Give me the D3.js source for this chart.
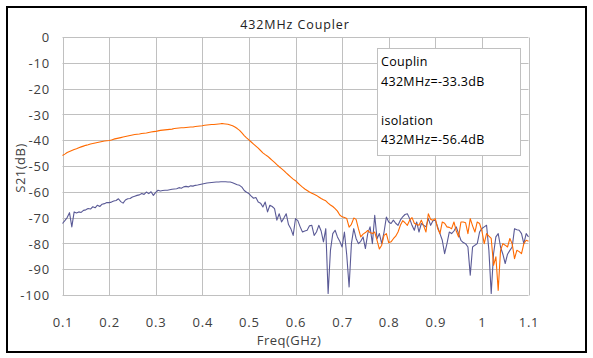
<!DOCTYPE html>
<html>
<head>
<meta charset="utf-8">
<script src="https://cdn.jsdelivr.net/npm/d3@7"></script>
<style>
  html, body { margin: 0; padding: 0; background: #fff; }
  svg { display: block; }
  text { font-family: "Open Sans", "DejaVu Sans", sans-serif; }
</style>
</head>
<body>
<svg id="chart" width="593" height="358"></svg>
<script>
// ---- data ----
const title = "432MHz Coupler";
const xTitle = "Freq(GHz)";
const yTitle = "S21(dB)";
const xTicks = [0.1, 0.2, 0.3, 0.4, 0.5, 0.6, 0.7, 0.8, 0.9, 1.0, 1.1];
const xTickLabels = ["0.1","0.2","0.3","0.4","0.5","0.6","0.7","0.8","0.9","1","1.1"];
const yTicks = [0, -10, -20, -30, -40, -50, -60, -70, -80, -90, -100];
const freqStart = 0.1;   // GHz
const freqStep = 0.005;  // GHz
const legendLines = ["Couplin", "432MHz=-33.3dB", "", "isolation", "432MHz=-56.4dB"];

// Coupling (orange), 0.100 .. 1.100 GHz every 5 MHz
const coupling = [
  -45.7,-45.2,-44.6,-44.2,-43.8,-43.4,-43.1,-42.7,-42.4,-42.1,   // 0.100-0.145
  -41.8,-41.6,-41.3,-41.1,-40.9,-40.7,-40.5,-40.3,-40.1,-40.0,   // 0.150-0.195
  -39.9,-39.7,-39.4,-39.2,-39.0,-38.8,-38.6,-38.4,-38.2,-38.0,   // 0.200-0.245
  -37.8,-37.6,-37.5,-37.4,-37.2,-37.1,-37.0,-36.8,-36.6,-36.5,   // 0.250-0.295
  -36.4,-36.2,-36.0,-35.9,-35.8,-35.7,-35.6,-35.5,-35.3,-35.2,   // 0.300-0.345
  -35.1,-35.0,-35.0,-34.9,-34.8,-34.7,-34.7,-34.5,-34.4,-34.3,   // 0.350-0.395
  -34.2,-34.0,-33.9,-33.8,-33.7,-33.7,-33.6,-33.5,-33.4,-33.4,   // 0.400-0.445
  -33.5,-33.6,-33.9,-34.2,-34.7,-35.3,-36.0,-37.0,-38.0,-38.9,   // 0.450-0.495
  -39.7,-40.5,-41.3,-42.1,-42.9,-43.8,-44.7,-45.4,-46.0,-46.8,   // 0.500-0.545
  -47.6,-48.4,-49.3,-50.1,-50.8,-51.6,-52.5,-53.3,-54.1,-54.9,   // 0.550-0.595
  -55.5,-56.4,-57.2,-58.0,-58.7,-59.3,-59.9,-60.4,-60.8,-61.2,   // 0.600-0.645
  -61.8,-62.4,-62.9,-63.3,-64.2,-64.9,-65.5,-66.3,-67.3,-68.8,   // 0.650-0.695
  -69.5,-69.8,-70.2,-73.5,-72.4,-70.0,-70.5,-74.1,-77.3,-76.2,   // 0.700-0.745
  -75.6,-74.8,-75.6,-76.0,-75.4,-78.6,-82.0,-80.5,-76.7,-76.0,   // 0.750-0.795
  -79.5,-79.2,-78.0,-77.0,-75.4,-72.8,-71.0,-71.8,-72.8,-70.8,   // 0.800-0.845
  -69.8,-72.0,-72.5,-72.8,-70.8,-73.0,-75.4,-68.3,-70.5,-70.8,   // 0.850-0.895
  -70.2,-74.0,-76.0,-71.5,-72.0,-73.4,-73.6,-74.1,-71.5,-75.0,   // 0.900-0.945
  -77.3,-71.5,-71.5,-71.8,-76.0,-70.2,-73.0,-75.4,-71.5,-72.1,   // 0.950-0.995
  -75.0,-79.9,-76.0,-77.0,-77.9,-88.3,-85.0,-98.0,-82.5,-79.9,   // 1.000-1.045
  -80.5,-81.2,-77.9,-80.0,-85.7,-82.5,-83.0,-83.8,-79.9,-78.6,   // 1.050-1.095
  -79.0                                                          // 1.100
];

// Isolation (dark blue), 0.100 .. 1.100 GHz every 5 MHz
const isolation = [
  -72.1,-71.0,-69.8,-67.9,-73.4,-67.6,-68.0,-67.6,-67.8,-67.0,   // 0.100-0.145
  -66.8,-66.3,-66.5,-65.6,-66.0,-65.0,-65.5,-64.6,-64.4,-64.0,   // 0.150-0.195
  -64.0,-63.8,-63.4,-63.2,-62.5,-63.6,-64.2,-63.0,-62.5,-62.4,   // 0.200-0.245
  -61.8,-61.5,-61.2,-61.0,-60.5,-60.8,-59.9,-60.5,-59.8,-61.2,   // 0.250-0.295
  -60.0,-59.2,-59.5,-59.3,-59.2,-59.2,-59.0,-58.8,-58.7,-58.6,   // 0.300-0.345
  -58.2,-58.4,-57.9,-57.7,-57.9,-57.5,-57.6,-57.3,-57.2,-57.0,   // 0.350-0.395
  -56.8,-56.6,-56.4,-56.3,-56.2,-56.1,-56.0,-56.0,-55.9,-55.9,   // 0.400-0.445
  -55.9,-56.0,-56.0,-56.3,-56.7,-57.1,-57.3,-58.0,-59.3,-60.0,   // 0.450-0.495
  -60.5,-61.5,-62.3,-62.0,-63.8,-64.2,-65.7,-63.8,-67.6,-65.0,   // 0.500-0.545
  -65.5,-66.3,-70.8,-68.3,-71.5,-70.0,-68.3,-72.5,-74.1,-76.7,   // 0.550-0.595
  -70.2,-71.0,-73.4,-75.4,-75.0,-74.7,-73.0,-72.8,-76.7,-75.4,   // 0.600-0.645
  -72.8,-75.0,-79.2,-74.1,-99.2,-82.5,-76.0,-74.7,-77.3,-79.0,   // 0.650-0.695
  -81.2,-75.4,-84.4,-96.7,-79.9,-74.1,-77.9,-79.9,-79.0,-77.3,   // 0.700-0.745
  -81.8,-76.0,-73.4,-79.9,-68.9,-78.0,-76.0,-79.9,-75.4,-69.6,   // 0.750-0.795
  -71.5,-72.1,-70.8,-72.0,-72.8,-70.8,-69.5,-68.6,-68.3,-70.2,   // 0.800-0.845
  -72.8,-74.7,-71.5,-75.4,-72.1,-72.8,-73.4,-70.2,-72.8,-71.0,   // 0.850-0.895
  -70.8,-73.4,-76.0,-78.6,-83.8,-79.9,-75.4,-76.0,-75.0,-73.4,   // 0.900-0.945
  -76.0,-78.6,-79.5,-79.9,-81.2,-92.1,-81.2,-80.5,-79.9,-75.4,   // 0.950-0.995
  -74.0,-73.4,-72.8,-82.5,-99.2,-83.8,-77.3,-76.0,-81.2,-84.0,   // 1.000-1.045
  -87.6,-84.0,-82.5,-81.2,-74.1,-74.5,-74.7,-76.0,-79.9,-76.0,   // 1.050-1.095
  -77.3                                                          // 1.100
];

// ---- drawing ----
const svg = d3.select("#chart");
const W = 593, H = 358;

svg.append("rect").attr("x", 0).attr("y", 0).attr("width", W).attr("height", H).attr("fill", "#fff");
// outer frame
svg.append("rect")
  .attr("x", 7).attr("y", 7).attr("width", 579).attr("height", 345)
  .attr("fill", "#fff").attr("stroke", "#000").attr("stroke-width", 2);

const x = d3.scaleLinear().domain([0.1, 1.1]).range([62.5, 528.5]);
const y = d3.scaleLinear().domain([-100, 0]).range([295.5, 37.5]);

const gridColor = "#c0c0c0";
const grid = svg.append("g");
grid.selectAll("line.v").data(xTicks).enter().append("line")
  .attr("x1", d => Math.round(x(d)) + 0.5).attr("x2", d => Math.round(x(d)) + 0.5)
  .attr("y1", y(0)).attr("y2", y(-100))
  .attr("stroke", gridColor).attr("stroke-width", 1);
grid.selectAll("line.h").data(yTicks).enter().append("line")
  .attr("y1", d => Math.round(y(d) - 0.5) + 0.5).attr("y2", d => Math.round(y(d) - 0.5) + 0.5)
  .attr("x1", x(0.1)).attr("x2", x(1.1))
  .attr("stroke", gridColor).attr("stroke-width", 1);

// axes (labels only)
const xAxis = d3.axisBottom(x).tickValues(xTicks).tickSize(0).tickPadding(0)
  .tickFormat((d, i) => xTickLabels[i]);
const gx = svg.append("g").attr("transform", "translate(0,318)").call(xAxis);
gx.select(".domain").remove();
gx.selectAll("text").attr("font-family", "'Open Sans', sans-serif").attr("font-size", 13)
  .attr("letter-spacing", 0.8).attr("fill", "#404040").attr("dy", "0.71em");

const yAxis = d3.axisLeft(y).tickValues(yTicks).tickSize(0).tickPadding(0)
  .tickFormat(d => String(d));
const gy = svg.append("g").attr("transform", "translate(50,0)").call(yAxis);
gy.select(".domain").remove();
gy.selectAll("text").attr("font-family", "'Open Sans', sans-serif").attr("font-size", 13)
  .attr("letter-spacing", 0.8).attr("fill", "#404040");

// series
const line = d3.line()
  .x((d, i) => x(freqStart + i * freqStep))
  .y(d => y(d));

svg.append("path").datum(isolation)
  .attr("d", line).attr("fill", "none")
  .attr("stroke", "#5a5a96").attr("stroke-width", 1.1).attr("stroke-linejoin", "round");
svg.append("path").datum(coupling)
  .attr("d", line).attr("fill", "none")
  .attr("stroke", "#ff6a00").attr("stroke-width", 1.1).attr("stroke-linejoin", "round");

// legend / annotation box
svg.append("rect")
  .attr("x", 377.5).attr("y", 48.5).attr("width", 143).attr("height", 107)
  .attr("fill", "#fff").attr("stroke", "#c0c0c0").attr("stroke-width", 1);
svg.append("g").selectAll("text").data(legendLines).enter().append("text")
  .attr("x", 381).attr("y", (d, i) => 66 + i * 19.5)
  .attr("font-size", 12.5).attr("letter-spacing", 0.3).attr("fill", "#000")
  .text(d => d);

// title
svg.append("text").attr("x", 295).attr("y", 29).attr("text-anchor", "middle")
  .attr("font-size", 12.5).attr("letter-spacing", 0.9).attr("fill", "#222").text(title);

// axis titles
svg.append("text").attr("x", 289).attr("y", 345).attr("text-anchor", "middle")
  .attr("font-size", 13).attr("letter-spacing", 0.5).attr("fill", "#404040").text(xTitle);
svg.append("text").attr("transform", "translate(25,168) rotate(-90)").attr("text-anchor", "middle")
  .attr("font-size", 13).attr("letter-spacing", 0.5).attr("fill", "#404040").text(yTitle);
</script>
</body>
</html>
